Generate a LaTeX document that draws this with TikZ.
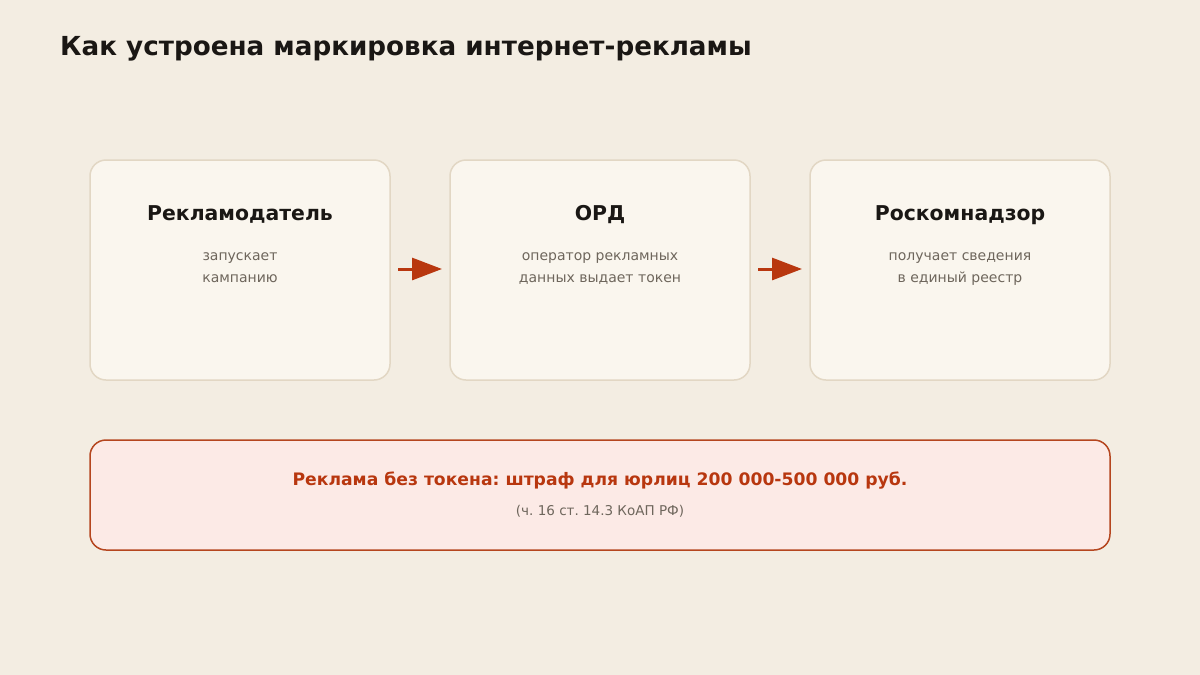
\documentclass[tikz,border=0pt]{standalone}
\usepackage{fontspec}
\setmainfont{DejaVu Sans}
\usetikzlibrary{arrows.meta}
\frenchspacing
\definecolor{bg}{HTML}{F3EDE2}
\definecolor{cardfill}{HTML}{FAF6EE}
\definecolor{cardline}{HTML}{E2D7C4}
\definecolor{ink}{HTML}{1A1714}
\definecolor{muted}{HTML}{6E665C}
\definecolor{accent}{HTML}{B8370F}
\definecolor{warnfill}{HTML}{FCEAE6}
\definecolor{warnline}{HTML}{B5461F}
\tikzset{
  card/.style={draw=cardline, fill=cardfill, line width=1.5pt, rounded corners=16pt,
    minimum width=300pt, minimum height=220pt, inner sep=0pt},
  warnbox/.style={draw=warnline, fill=warnfill, line width=1.5pt, rounded corners=16pt,
    minimum width=1020pt, minimum height=110pt, inner sep=0pt},
  head/.style={anchor=base, text=ink, font=\fontsize{20.4pt}{24pt}\selectfont\bfseries, inner sep=0pt},
  desc/.style={anchor=base, text=muted, font=\fontsize{14pt}{17pt}\selectfont, inner sep=0pt},
  flow/.style={draw=accent, line width=3pt, -{Triangle[length=30pt,width=22pt]},
    shorten <=8pt, shorten >=8pt},
}
\begin{document}
\begin{tikzpicture}[x=1pt,y=-1pt]
\fill[bg] (0,0) rectangle (1200,675);
\useasboundingbox (0,0) rectangle (1200,675);
\node[anchor=base west, inner sep=0pt, text=ink, font=\fontsize{26.2pt}{31pt}\selectfont\bfseries] (title) at (60,55) {Как устроена маркировка интернет-рекламы};

\node[card] (c1) at (240,270) {};
\node[card] (c2) at (600,270) {};
\node[card] (c3) at (960,270) {};

\node[head] (h1) at (240,220) {Рекламодатель};
\node[head] (h2) at (600,220) {ОРД};
\node[head] (h3) at (960,220) {Роскомнадзор};

\node[desc] (d1a) at (240,260.5) {запускает};
\node[desc] (d1b) at (240,282) {кампанию};
\node[desc] (d2a) at (600,260.5) {оператор рекламных};
\node[desc] (d2b) at (600,282) {данных выдает токен};
\node[desc] (d3a) at (960,260.5) {получает сведения};
\node[desc] (d3b) at (960,282) {в единый реестр};

\coordinate (a1s) at (390,269);
\coordinate (a1e) at (450,269);
\coordinate (a2s) at (750,269);
\coordinate (a2e) at (810,269);
\draw[flow] (a1s) -- (a1e);
\draw[flow] (a2s) -- (a2e);

\node[warnbox] (w) at (600,495) {};
\node[anchor=base, inner sep=0pt, text=accent, font=\fontsize{17.2pt}{20pt}\selectfont\bfseries] (wt) at (600,485) {Реклама без токена: штраф для юрлиц 200 000-500 000 руб.};
\node[anchor=base, inner sep=0pt, text=muted, font=\fontsize{13.5pt}{16pt}\selectfont] (wl) at (600,515) {(ч. 16 ст. 14.3 КоАП РФ)};
\end{tikzpicture}
\end{document}
